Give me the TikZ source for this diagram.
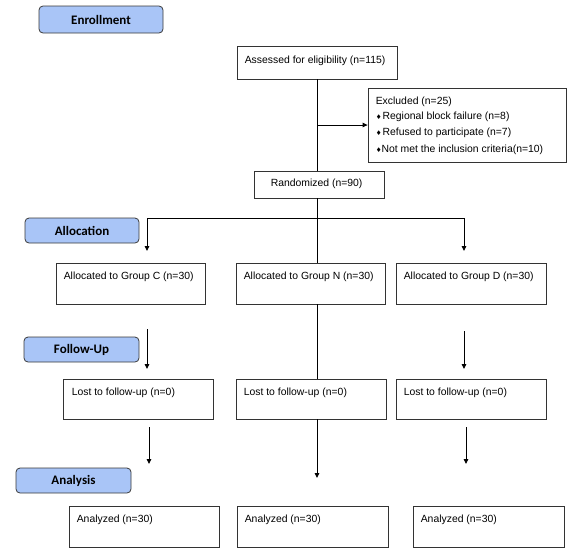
\documentclass[tikz,border=0pt]{standalone}
\usepackage{fontspec}
\setmainfont{Liberation Sans}
\newfontfamily\lblfont{Carlito}
\newfontfamily\symfont{DejaVu Sans}
\usetikzlibrary{arrows.meta}
\definecolor{lblblue}{HTML}{A9C5F7}
\definecolor{lblborder}{HTML}{3A3A3A}
\definecolor{boxborder}{HTML}{333333}
\newcommand{\dbul}{{\symfont\fontsize{6.5}{6.5}\selectfont ♦}\hspace{1pt}}
\begin{document}
\begin{tikzpicture}[x=1pt,y=-1pt,
  stagebox/.style={draw=lblborder, fill=lblblue, rounded corners=4pt, line width=0.8pt,
    inner sep=0pt, font=\lblfont\bfseries\fontsize{13}{15}\selectfont},
  flowbox/.style={draw=boxborder, line width=0.8pt, inner sep=0pt, fill=white},
  txt/.style={anchor=north west, inner sep=0pt, xshift=8pt, yshift=-9pt,
    font=\fontsize{10.4}{15.5}\selectfont, align=left},
  conn/.style={line width=0.9pt, black},
  arr/.style={conn, -{Triangle[length=5pt,width=4.5pt]}}
]
\useasboundingbox (0,0) rectangle (572,558);

% stage labels
\node[stagebox, minimum width=124pt, minimum height=27pt] (enr) at (101,19.5) {Enrollment};
\node[stagebox, minimum width=114pt, minimum height=25pt] (alloc) at (82,230.5) {Allocation};
\node[stagebox, minimum width=115pt, minimum height=25pt] (fup) at (81.5,349.5) {Follow-Up};
\node[stagebox, minimum width=115pt, minimum height=25pt] (ana) at (73.5,480.5) {Analysis};

% top boxes
\node[flowbox, minimum width=160pt, minimum height=33pt,
  label={[txt, yshift=-1pt]north west:Assessed for eligibility (n=115)}] (assess) at (317,62.5) {};
\node[flowbox, minimum width=198pt, minimum height=74pt,
  label={[txt]north west:Excluded (n=25)\\\dbul Regional block failure (n=8)\\\dbul Refused to participate (n=7)\\[1.5pt]\dbul\hspace{-1pt}Not met the inclusion criteria(n=10)}] (excl) at (467,125) {};
\node[flowbox, minimum width=130pt, minimum height=27pt,
  label={[txt, xshift=9pt, yshift=1pt]north west:Randomized (n=90)}] (rand) at (319,184.5) {};

% allocation boxes
\node[flowbox, minimum width=149pt, minimum height=41pt,
  label={[txt]north west:Allocated to Group C (n=30)}] (gc) at (130.5,283.5) {};
\node[flowbox, minimum width=149pt, minimum height=41pt,
  label={[txt]north west:Allocated to Group N (n=30)}] (gn) at (310.5,283.5) {};
\node[flowbox, minimum width=150pt, minimum height=41pt,
  label={[txt]north west:Allocated to Group D (n=30)}] (gd) at (471,283.5) {};

% follow-up boxes
\node[flowbox, minimum width=150pt, minimum height=40pt,
  label={[txt, xshift=1pt]north west:Lost to follow-up (n=0)}] (lc) at (138,399) {};
\node[flowbox, minimum width=150pt, minimum height=40pt,
  label={[txt]north west:Lost to follow-up (n=0)}] (ln) at (311,399) {};
\node[flowbox, minimum width=150pt, minimum height=40pt,
  label={[txt]north west:Lost to follow-up (n=0)}] (ld) at (471,399) {};

% analysis boxes
\node[flowbox, minimum width=150pt, minimum height=41pt,
  label={[txt]north west:Analyzed (n=30)}] (ac) at (144,526.5) {};
\node[flowbox, minimum width=151pt, minimum height=41pt,
  label={[txt]north west:Analyzed (n=30)}] (an) at (312.5,526.5) {};
\node[flowbox, minimum width=151pt, minimum height=41pt,
  label={[txt]north west:Analyzed (n=30)}] (ad) at (488.5,526.5) {};

% helper coordinates
\coordinate (cx) at (317,0);
\coordinate (exclpt) at (317,125);
\coordinate (brL) at (147,218);
\coordinate (brR) at (464,218);
\coordinate (brLend) at (147,251);
\coordinate (brRend) at (464,251);
\coordinate (fuLs) at (147,329);
\coordinate (fuLe) at (147,369);
\coordinate (fuRs) at (464,331);
\coordinate (fuRe) at (464,369);
\coordinate (anLs) at (149,427);
\coordinate (anLe) at (149,464);
\coordinate (anRs) at (466,427);
\coordinate (anRe) at (466,464);
\coordinate (anCe) at (317,478);

% connectors
\draw[conn] (assess.south) -- (cx |- rand.north);
\draw[arr] (exclpt) -- (excl.west);
\draw[conn] (cx |- rand.south) -- (cx |- gn.north);
\draw[conn] (brL) -- (brR);
\draw[arr] (brL) -- (brLend);
\draw[arr] (brR) -- (brRend);
\draw[conn] (cx |- gn.south) -- (cx |- ln.north);
\draw[arr] (fuLs) -- (fuLe);
\draw[arr] (fuRs) -- (fuRe);
\draw[arr] (anLs) -- (anLe);
\draw[arr] (anRs) -- (anRe);
\draw[arr] (cx |- ln.south) -- (anCe);
\end{tikzpicture}
\end{document}
